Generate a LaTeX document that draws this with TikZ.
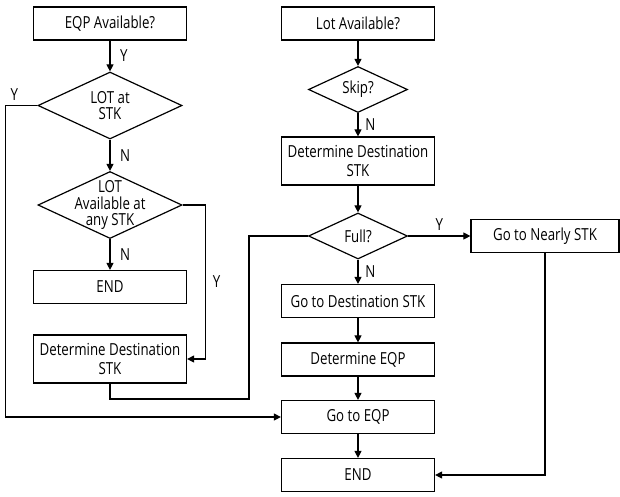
\documentclass[tikz,border=0pt]{standalone}
\usepackage{fontspec}
\setmainfont{Open Sans}[FakeStretch=0.8]
\usetikzlibrary{shapes.geometric,arrows.meta}

\tikzset{
  process/.style={draw, line width=0.85pt, minimum width=3.825cm, minimum height=0.825cm,
    inner sep=0pt, align=center, font=\fontsize{11.8}{14}\selectfont},
  process2/.style={process, minimum height=1.2cm},
  decision/.style={draw, diamond, line width=0.85pt, inner sep=0pt,
    minimum width=3.6cm, minimum height=1.675cm},
  smalldecision/.style={decision, minimum width=2.475cm, minimum height=1.15cm},
  dtext/.style={align=center, font=\fontsize{11.8}{11.6}\selectfont},
  flow/.style={line width=0.85pt, -{Triangle[length=5pt,width=5pt]}},
  link/.style={line width=0.85pt},
  yn/.style={font=\fontsize{11.8}{14}\selectfont}
}

\begin{document}
\begin{tikzpicture}[x=0.025cm, y=-0.025cm]
    \useasboundingbox (0,0) rectangle (620,496);
    % Left branch: equipment asks for a lot
    \node[process] (eqpq) at (110,23.5) {EQP Available?};
    \node[decision, label={[dtext]center:LOT at\\STK}] (lotstk) at (110,105.5) {};
    \node[decision, label={[dtext]center:LOT\\Available at\\any STK}] (lotany) at (110,205) {};
    \node[process] (endl) at (110,287) {END};
    \node[process2] (destl) at (110,359) {Determine Destination\\STK};
    % Right branch: lot looks for a stocker
    \node[process] (lotq) at (358,23.5) {Lot Available?};
    \node[smalldecision, label={[dtext]center:Skip?}] (skip) at (358,89.5) {};
    \node[process2] (destr) at (358,161) {Determine Destination\\STK};
    \node[smalldecision, label={[dtext]center:Full?}] (full) at (358,236) {};
    \node[process, minimum width=3.7cm] (nearly) at (545,236) {Go to Nearly STK};
    \node[process] (godest) at (358,301) {Go to Destination STK};
    \node[process] (deteqp) at (358,359.5) {Determine EQP};
    \node[process] (goeqp) at (358,417) {Go to EQP};
    \node[process] (endr) at (358,475) {END};
    \coordinate (rail) at (249,399);

    % Left connectors
    \draw[flow] (eqpq) -- node[yn, right=0.12cm] {Y} (lotstk);
    \draw[flow] (lotstk) -- node[yn, right=0.12cm] {N} (lotany);
    \draw[flow] (lotany) -- node[yn, right=0.12cm] {N} (endl);
    \draw[flow] (lotstk.west) -- ++(-32,0) node[yn, above right] {Y} |- (goeqp.west);
    \draw[flow] (lotany.east) -- ++(23,0) |- node[yn, pos=0.25, right=0.05cm] {Y} (destl.east);
    \draw[link] (destl.south) |- (rail) |- (full.west);
    % Right connectors
    \draw[flow] (lotq) -- (skip);
    \draw[flow] (skip) -- node[yn, right=0.05cm] {N} (destr);
    \draw[flow] (destr) -- (full);
    \draw[flow] (full.east) -- node[yn, above] {Y} (nearly.west);
    \draw[flow] (full) -- node[yn, right=0.05cm] {N} (godest);
    \draw[flow] (godest) -- (deteqp);
    \draw[flow] (deteqp) -- (goeqp);
    \draw[flow] (goeqp) -- (endr);
    \draw[flow] (nearly.south) |- (endr.east);
\end{tikzpicture}
\end{document}
